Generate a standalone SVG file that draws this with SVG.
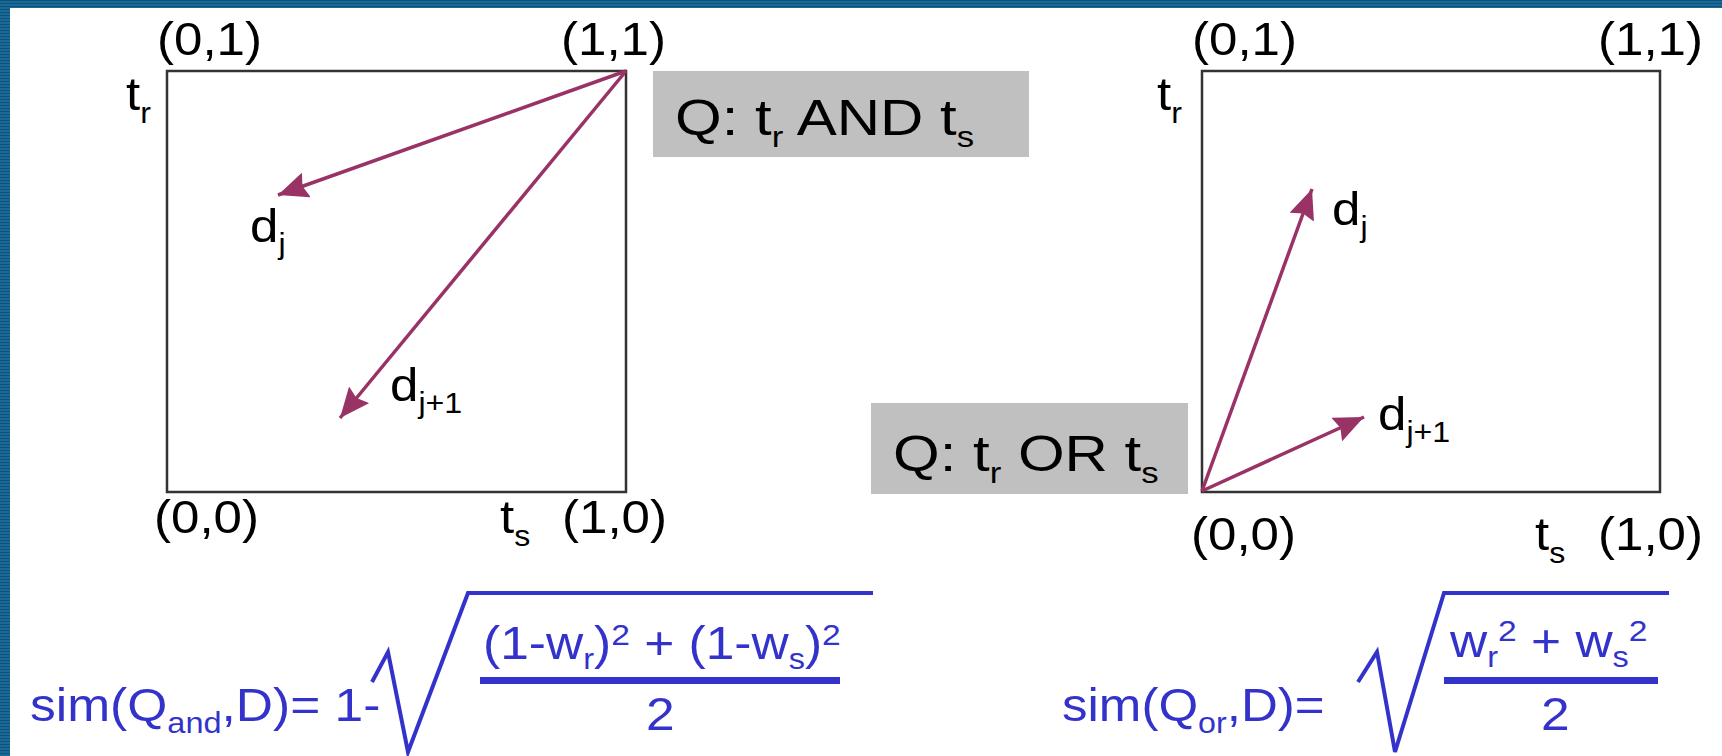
<svg xmlns="http://www.w3.org/2000/svg" width="1722" height="756" viewBox="0 0 1722 756">
<defs>
<pattern id="stripes" width="4" height="3" patternUnits="userSpaceOnUse"><rect width="4" height="3" fill="#1b6a95"/><rect width="4" height="1" fill="#0d537d"/></pattern>
<marker id="ah" markerWidth="30" markerHeight="26" refX="30" refY="13" orient="auto" markerUnits="userSpaceOnUse"><path d="M0,0 L30,13 L0,26 L4,13 z" fill="#993366"/></marker>
</defs>
<style>
.t{font-family:"Liberation Sans",Arial,sans-serif;font-size:46px;fill:#000}
.qt{font-family:"Liberation Sans",Arial,sans-serif;font-size:50px;fill:#000}
.f{font-family:"Liberation Sans",Arial,sans-serif;font-size:46px;fill:#3333cc}
.sub{font-size:29px}
.box{fill:none;stroke:#333;stroke-width:2.5}
.vec{stroke:#993366;stroke-width:3.5;fill:none;marker-end:url(#ah)}
.q{fill:#c0c0c0}
.sq{fill:none;stroke:#3333cc;stroke-width:4;stroke-linejoin:miter}
.bar{fill:#3333cc}
</style>
<rect width="1722" height="756" fill="#fff"/>
<g id="frame">
<rect x="0" y="0" width="1722" height="8" fill="url(#stripes)"/>
<rect x="0" y="0" width="10" height="756" fill="url(#stripes)"/>
</g>

<g id="and-panel">
<rect class="box" x="167" y="71" width="459" height="421"/>
<text class="t" transform="translate(157,55) scale(1.11,1)">(0,1)</text>
<text class="t" transform="translate(561,55) scale(1.11,1)">(1,1)</text>
<text class="t" transform="translate(126,110) scale(1.11,1)">t<tspan class="sub" dy="13">r</tspan></text>
<text class="t" transform="translate(154,533) scale(1.11,1)">(0,0)</text>
<text class="t" transform="translate(500,533) scale(1.11,1)">t<tspan class="sub" dy="13">s</tspan></text>
<text class="t" transform="translate(562,533) scale(1.11,1)">(1,0)</text>
</g>

<g id="and-query">
<rect class="q" x="653" y="71" width="376" height="86"/>
<text class="qt" transform="translate(675,135) scale(1.2,1)">Q: t<tspan class="sub" dy="12">r</tspan><tspan dy="-12"> AND t</tspan><tspan class="sub" dy="12">s</tspan></text>
</g>

<g id="and-dj"><text class="t" transform="translate(250,242) scale(1.11,1)">d<tspan class="sub" dy="12">j</tspan></text></g>
<g id="and-dj1"><text class="t" transform="translate(390,401) scale(1.11,1)">d<tspan class="sub" dy="12">j+1</tspan></text></g>

<g id="or-panel">
<rect class="box" x="1202" y="71" width="458" height="421"/>
<text class="t" transform="translate(1192,55) scale(1.11,1)">(0,1)</text>
<text class="t" transform="translate(1598,55) scale(1.11,1)">(1,1)</text>
<text class="t" transform="translate(1157,110) scale(1.11,1)">t<tspan class="sub" dy="13">r</tspan></text>
<text class="t" transform="translate(1191,550) scale(1.11,1)">(0,0)</text>
<text class="t" transform="translate(1535,550) scale(1.11,1)">t<tspan class="sub" dy="13">s</tspan></text>
<text class="t" transform="translate(1598,550) scale(1.11,1)">(1,0)</text>
</g>

<g id="or-query">
<rect class="q" x="871" y="403" width="317" height="91"/>
<text class="qt" transform="translate(893,471) scale(1.2,1)">Q: t<tspan class="sub" dy="12">r</tspan><tspan dy="-12"> OR t</tspan><tspan class="sub" dy="12">s</tspan></text>
</g>

<g id="or-dj"><text class="t" transform="translate(1332,225) scale(1.11,1)">d<tspan class="sub" dy="12">j</tspan></text></g>
<g id="or-dj1"><text class="t" transform="translate(1378,430) scale(1.11,1)">d<tspan class="sub" dy="12">j+1</tspan></text></g>

<g id="connectors">
<line class="vec" x1="626" y1="71" x2="278" y2="195"/>
<line class="vec" x1="626" y1="71" x2="340" y2="418"/>
<line class="vec" x1="1202" y1="491" x2="1312" y2="189"/>
<line class="vec" x1="1202" y1="491" x2="1364" y2="417"/>
</g>

<g id="formula-and">
<text class="f" transform="translate(30,721) scale(1.12,1)">sim(Q<tspan class="sub" dy="12">and</tspan><tspan dy="-12">,D)= 1-</tspan></text>
<path class="sq" d="M372,682 L388,652 L408,752 L468,593 L873,593"/>
<text class="f" transform="translate(483,659) scale(1.12,1)">(1-w<tspan class="sub" dy="10">r</tspan><tspan dy="-10">)</tspan><tspan font-size="30" dy="-14">2</tspan><tspan dy="14"> + (1-w</tspan><tspan class="sub" dy="10">s</tspan><tspan dy="-10">)</tspan><tspan font-size="30" dy="-14">2</tspan></text>
<rect class="bar" x="480" y="677" width="360" height="7"/>
<text class="f" transform="translate(646,730) scale(1.12,1)">2</text>
</g>

<g id="formula-or">
<text class="f" transform="translate(1062,721) scale(1.11,1)">sim(Q<tspan class="sub" dy="12">or</tspan><tspan dy="-12">,D)=</tspan></text>
<path class="sq" d="M1358,682 L1377,652 L1395,752 L1444,593 L1669,593"/>
<text class="f" transform="translate(1450,657) scale(1.12,1)">w<tspan class="sub" dy="10">r</tspan><tspan font-size="30" dy="-26">2</tspan><tspan dy="16"> + w</tspan><tspan class="sub" dy="10">s</tspan><tspan font-size="30" dy="-26">2</tspan></text>
<rect class="bar" x="1444" y="677" width="214" height="7"/>
<text class="f" transform="translate(1541,730) scale(1.12,1)">2</text>
</g>
</svg>
